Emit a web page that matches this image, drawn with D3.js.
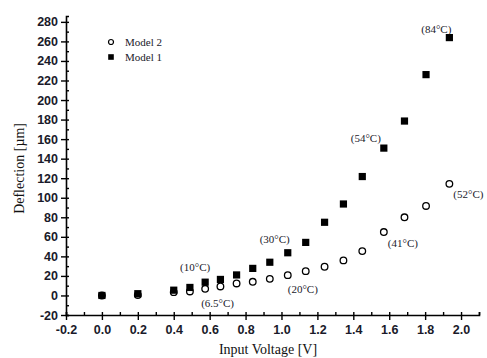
<!DOCTYPE html>
<html><head><meta charset="utf-8">
<script src="https://cdn.jsdelivr.net/npm/d3@7"></script>
<style>body{margin:0;background:#fff}svg{display:block}</style>
</head><body>
<svg id="c" width="487" height="358"></svg>
<script>
const voltage = [0, 0.2, 0.4, 0.49, 0.575, 0.66, 0.75, 0.84, 0.935, 1.035, 1.135, 1.24, 1.345, 1.45, 1.57, 1.685, 1.805, 1.935];
const model1 = [0, 1.8, 5.4, 8.2, 13.6, 16.4, 21, 27.7, 34, 43.7, 54.3, 74.9, 93.6, 121.7, 150.8, 178.5, 226, 263.9];
const model2 = [0, 0.5, 3.4, 4.1, 6.8, 9.2, 12.3, 14, 17, 20.8, 24.9, 29.4, 35.9, 45.4, 64.9, 80, 91.6, 114.2];
const yTicks = [-20,0,20,40,60,80,100,120,140,160,180,200,220,240,260,280];
const xTicks = [-0.2,0,0.2,0.4,0.6,0.8,1.0,1.2,1.4,1.6,1.8,2.0];
const seriesNames = ["Model 2", "Model 1"];
const annotations = [
  {s:1, i:17, t:"(84°C)"}, {s:1, i:14, t:"(54°C)"}, {s:1, i:9, t:"(30°C)"}, {s:1, i:4, t:"(10°C)"},
  {s:2, i:4, t:"(6.5°C)"}, {s:2, i:9, t:"(20°C)"}, {s:2, i:14, t:"(41°C)"}, {s:2, i:17, t:"(52°C)"}
];

const svg = d3.select("#c");
const L = 66, R = 479, T = 16, B = 315;
const x = d3.scaleLinear().domain([-0.2, 2.1]).range([L, R]);
const y = d3.scaleLinear().domain([-20, 286]).range([B, T]);
const hy = s => s.replace("\u2212", "-");

const g = svg.append("g");
const xMinor = d3.range(-0.2, 2.101, 0.1).map(v => +v.toFixed(2));
const yMinor = d3.range(-20, 286, 10);
g.append("g").attr("transform", `translate(0,${B})`)
  .call(d3.axisBottom(x).tickValues(xMinor).tickSize(-3).tickFormat(""));
g.append("g").attr("transform", `translate(${L},0)`)
  .call(d3.axisLeft(y).tickValues(yMinor).tickSize(-3).tickFormat(""));
const xM = g.append("g").attr("transform", `translate(0,${B})`)
  .call(d3.axisBottom(x).tickValues(xTicks).tickSize(5).tickPadding(5).tickFormat(d => hy(d3.format(".1f")(d))));
const yM = g.append("g").attr("transform", `translate(${L},0)`)
  .call(d3.axisLeft(y).tickValues(yTicks).tickSize(5).tickPadding(3).tickFormat(d => hy(d3.format("d")(d))));
g.selectAll(".domain").attr("stroke", "#000").attr("stroke-width", 1.6);
g.selectAll(".tick line").attr("stroke", "#000").attr("stroke-width", 1.4);
[xM, yM].forEach(a => a.selectAll("text").attr("font-family", "Liberation Sans, Arial, sans-serif")
  .attr("font-size", 12.5).attr("font-weight", "bold").attr("fill", "#1a1a2a"));
xM.select(".domain").remove(); yM.select(".domain").remove();

svg.append("text").attr("x", (x(0.9)+x(0.95))/2).attr("y", 354).attr("text-anchor", "middle")
  .attr("font-family", "Liberation Serif, Times New Roman, serif").attr("font-size", 14).attr("fill", "#111")
  .text("Input Voltage [V]");
svg.append("text").attr("transform", `translate(24,${y(130)}) rotate(-90)`).attr("text-anchor", "middle")
  .attr("font-family", "Liberation Serif, Times New Roman, serif").attr("font-size", 14).attr("fill", "#111")
  .text("Deflection [µm]");

const pts = voltage.map((v, i) => ({v, m1: model1[i], m2: model2[i]}));
svg.append("g").selectAll("circle").data(pts).join("circle")
  .attr("cx", d => x(d.v)).attr("cy", d => y(d.m2)).attr("r", 3.3)
  .attr("fill", "#fff").attr("stroke", "#000").attr("stroke-width", 1.3);
svg.append("g").selectAll("rect").data(pts).join("rect")
  .attr("x", d => x(d.v) - 3.6).attr("y", d => y(d.m1) - 3.6).attr("width", 7.2).attr("height", 7.2)
  .attr("fill", "#000");

const offs = {
  "(84°C)": [2, -5, "end"], "(54°C)": [-3, -6, "end"], "(30°C)": [2, -10, "end"], "(10°C)": [5, -11, "end"],
  "(6.5°C)": [-4, 18, "start"], "(20°C)": [0, 18, "start"], "(41°C)": [4, 15, "start"], "(52°C)": [4, 14, "start"]
};
svg.append("g").selectAll("text").data(annotations).join("text")
  .attr("x", d => x(voltage[d.i]) + offs[d.t][0])
  .attr("y", d => y(d.s === 1 ? model1[d.i] : model2[d.i]) + offs[d.t][1])
  .attr("text-anchor", d => offs[d.t][2])
  .attr("font-family", "Liberation Serif, Times New Roman, serif").attr("font-size", 11).attr("fill", "#1a1a2a")
  .text(d => d.t);

const lg = svg.append("g").attr("transform", "translate(111,42)");
lg.append("circle").attr("cx", 0).attr("cy", 0).attr("r", 2.5).attr("fill", "#fff").attr("stroke", "#000").attr("stroke-width", 1.2);
lg.append("rect").attr("x", -2.8).attr("y", 15 - 2.8).attr("width", 5.6).attr("height", 5.6).attr("fill", "#000");
lg.selectAll("text").data(seriesNames).join("text")
  .attr("x", 14).attr("y", (d, i) => i * 15 + 3.5)
  .attr("font-family", "Liberation Serif, Times New Roman, serif").attr("font-size", 11).attr("fill", "#1a1a2a")
  .text(d => d);
</script>
</body></html>
